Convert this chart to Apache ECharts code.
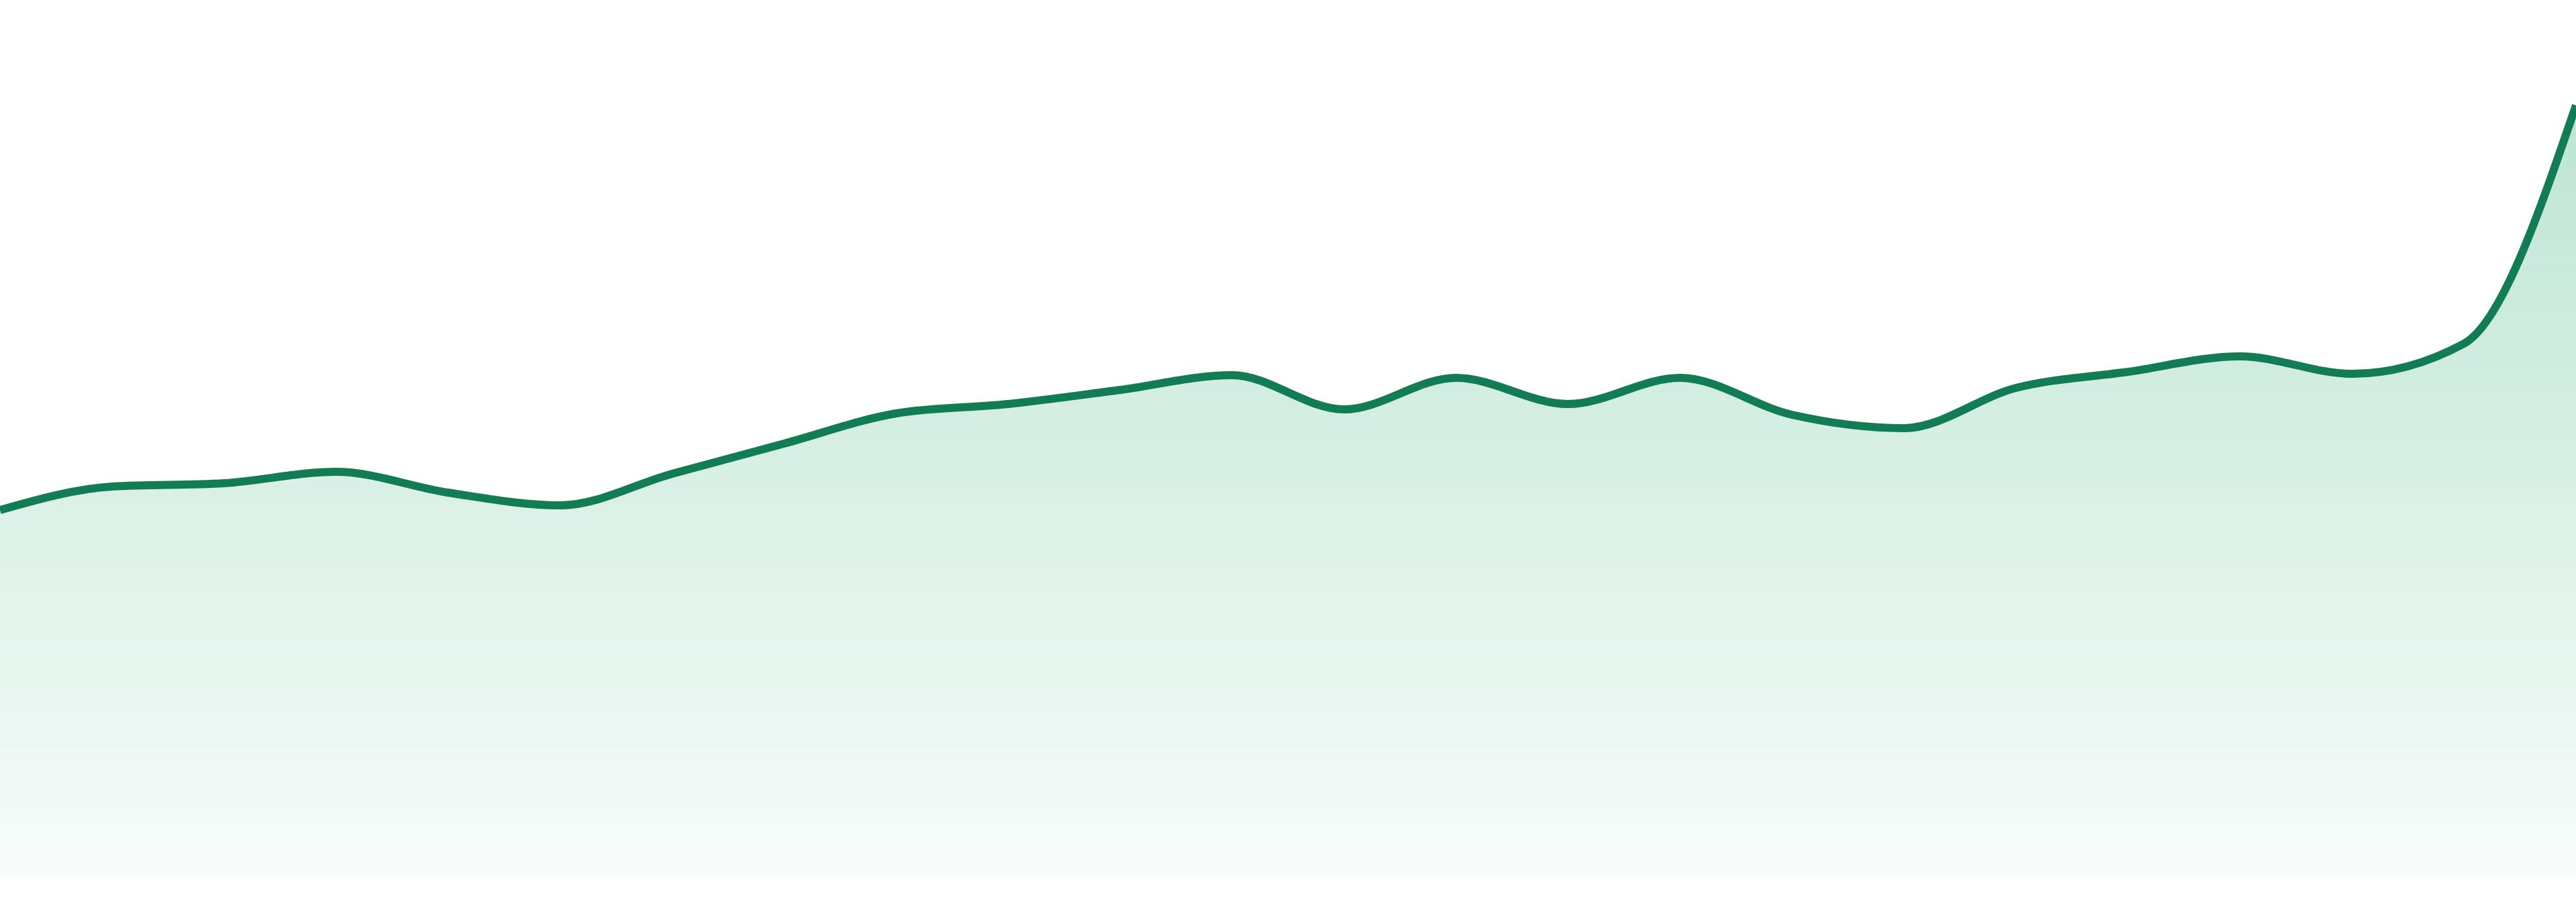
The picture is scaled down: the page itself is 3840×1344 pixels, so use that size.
<html>
<head>
<meta http-equiv="Content-Type" content="text/html; charset=utf-8" />
<style type="text/css">
html, body {margin: 0; padding: 0; background-color: #fff}
</style>
</head>
<body>
<div id="main" style="width:3840px;height:1344px;"></div>
</body>

<script src="https://cdn.jsdelivr.net/npm/echarts@6/dist/echarts.min.js"></script>
<script type="text/javascript">

// 24 samples
var categories = ['1', '2', '3', '4', '5', '6', '7', '8', '9', '10', '11', '12',
    '13', '14', '15', '16', '17', '18', '19', '20', '21', '22', '23', '24'];
var values = [545, 580, 585, 602, 571, 552, 599, 644, 689, 703, 724, 746,
    695, 742, 703, 742, 687, 667, 727, 751, 774, 748, 793, 1148];
var yMin = 0;
var yMax = 1305;

var lineColor = '#127c54';

// monotone-x cubic through the pixel points (no overshoot, flat at local extrema)
function sign(v) { return v < 0 ? -1 : 1; }
function monotonePath(pts) {
    var n = pts.length;
    var t = [];
    for (var i = 1; i < n - 1; i++) {
        var h0 = pts[i][0] - pts[i - 1][0], h1 = pts[i + 1][0] - pts[i][0];
        var s0 = (pts[i][1] - pts[i - 1][1]) / h0, s1 = (pts[i + 1][1] - pts[i][1]) / h1;
        var p = (s0 * h1 + s1 * h0) / (h0 + h1);
        t[i] = (sign(s0) + sign(s1)) * Math.min(Math.abs(s0), Math.abs(s1), 0.5 * Math.abs(p)) || 0;
    }
    var hs = pts[1][0] - pts[0][0];
    t[0] = (3 * (pts[1][1] - pts[0][1]) / hs - t[1]) / 2;
    var he = pts[n - 1][0] - pts[n - 2][0];
    t[n - 1] = (3 * (pts[n - 1][1] - pts[n - 2][1]) / he - t[n - 2]) / 2;

    var d = 'M' + pts[0][0] + ' ' + pts[0][1];
    for (var j = 0; j < n - 1; j++) {
        var dx = (pts[j + 1][0] - pts[j][0]) / 3;
        d += ' C' + (pts[j][0] + dx) + ' ' + (pts[j][1] + dx * t[j]) +
            ' ' + (pts[j + 1][0] - dx) + ' ' + (pts[j + 1][1] - dx * t[j + 1]) +
            ' ' + pts[j + 1][0] + ' ' + pts[j + 1][1];
    }
    return d;
}

var myChart = echarts.init(document.getElementById('main'));

option = {
    animation: false,
    grid: {
        left: 0,
        right: 0,
        top: 0,
        bottom: 39
    },
    xAxis: {
        type: 'category',
        data: categories,
        boundaryGap: false,
        show: false
    },
    yAxis: {
        type: 'value',
        min: yMin,
        max: yMax,
        show: false
    },
    series: [{
        type: 'custom',
        coordinateSystem: 'cartesian2d',
        silent: true,
        data: values.map(function (v, i) { return [i, v]; }),
        renderItem: function (params, api) {
            // whole curve is drawn once, from the first item
            if (params.dataIndex !== 0) return null;
            var pts = values.map(function (v, i) { return api.coord([i, v]); });
            var base = params.coordSys.y + params.coordSys.height;
            var d = monotonePath(pts);
            var area = d + ' L' + pts[pts.length - 1][0] + ' ' + base +
                ' L' + pts[0][0] + ' ' + base + ' Z';
            return {
                type: 'group',
                children: [{
                    type: 'path',
                    shape: { pathData: area },
                    style: {
                        fill: new echarts.graphic.LinearGradient(0, 0, 0, 1, [
                            { offset: 0, color: 'rgba(16,160,100,0.28)' },
                            { offset: 1, color: 'rgba(16,160,100,0.03)' }
                        ]),
                        stroke: null
                    }
                }, {
                    type: 'path',
                    shape: { pathData: d },
                    style: {
                        fill: null,
                        stroke: lineColor,
                        lineWidth: 12,
                        lineJoin: 'round'
                    }
                }]
            };
        }
    }]
};

myChart.setOption(option);
</script>
</html>
